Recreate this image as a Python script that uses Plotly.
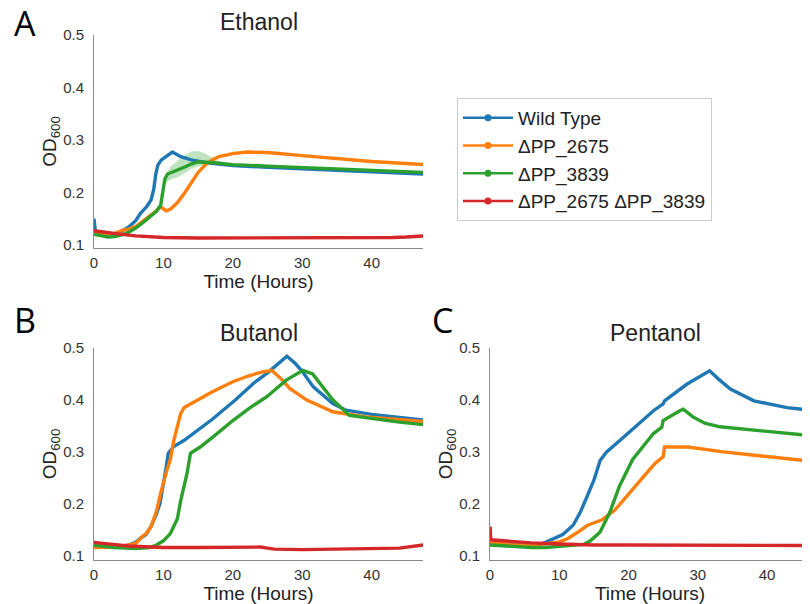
import plotly.graph_objects as go
from plotly.subplots import make_subplots

COLORS = ['#1f77b4', '#ff7f0e', '#2ca02c', '#d62728']
NAMES = ['Wild Type', '\u0394PP_2675', '\u0394PP_3839', '\u0394PP_2675 \u0394PP_3839']

# ---- Ethanol ----
ETH_BLUE_T = [0, 0.2, 1, 2, 3, 4, 5, 6, 6.7, 7.6, 8.2, 8.6, 8.9, 9.2, 9.7, 10.5, 11.3, 12.5, 14, 16, 20, 25, 30, 35, 40, 44, 47.5]
ETH_BLUE = [0.15, 0.125, 0.122, 0.12, 0.121, 0.126, 0.134, 0.146, 0.16, 0.173, 0.185, 0.205, 0.235, 0.252, 0.262, 0.27, 0.277, 0.268, 0.262, 0.257, 0.251, 0.248, 0.245, 0.242, 0.239, 0.237, 0.235]
ETH_ORANGE_T = [0, 1, 2, 3, 4, 5, 6, 7, 8, 9, 9.5, 10.4, 11, 12, 13, 14, 15, 16, 17, 18, 20, 22, 25, 30, 35, 40, 47.5]
ETH_ORANGE = [0.125, 0.122, 0.12, 0.122, 0.127, 0.13, 0.135, 0.145, 0.155, 0.165, 0.173, 0.165, 0.168, 0.18, 0.198, 0.218, 0.238, 0.252, 0.262, 0.268, 0.274, 0.277, 0.276, 0.27, 0.264, 0.259, 0.253]
ETH_GREEN_T = [0, 1, 2, 3, 4, 5, 6, 7, 8, 9, 9.6, 9.9, 10.2, 10.6, 12, 13, 14, 15, 17, 20, 25, 30, 35, 40, 47.5]
ETH_GREEN = [0.12, 0.117, 0.115, 0.116, 0.119, 0.124, 0.132, 0.142, 0.153, 0.164, 0.175, 0.2, 0.225, 0.235, 0.242, 0.248, 0.254, 0.258, 0.257, 0.253, 0.25, 0.247, 0.244, 0.241, 0.238]
ETH_RED_T = [0, 1, 2, 3, 4, 6, 8, 10, 15, 20, 25, 30, 35, 40, 43, 45, 47.5]
ETH_RED = [0.127, 0.125, 0.123, 0.122, 0.12, 0.117, 0.115, 0.114, 0.113, 0.113, 0.113, 0.113, 0.113, 0.113, 0.114, 0.115, 0.117]
ETH_BAND_T = [10.3, 11, 12, 13, 14, 15, 16, 17, 18, 19]
ETH_BAND_HI = [0.232, 0.249, 0.26, 0.27, 0.278, 0.279, 0.274, 0.266, 0.259, 0.255]
ETH_BAND_LO = [0.218, 0.224, 0.229, 0.236, 0.245, 0.25, 0.252, 0.253, 0.253, 0.252]

# ---- Butanol ----
BUT_BLUE_T = [0, 3, 5, 6, 6.7, 7.5, 8.2, 9, 9.5, 10, 10.4, 10.7, 11.5, 13, 15.3, 17, 20.4, 23, 25, 27, 27.8, 29, 30, 31.6, 34.4, 36.3, 40, 44, 47.5]
BUT_BLUE = [0.118, 0.115, 0.12, 0.125, 0.133, 0.14, 0.155, 0.18, 0.2, 0.235, 0.27, 0.297, 0.31, 0.322, 0.345, 0.362, 0.4, 0.432, 0.452, 0.474, 0.484, 0.47, 0.455, 0.425, 0.393, 0.38, 0.372, 0.366, 0.361]
BUT_ORANGE_T = [0, 4, 6, 6.7, 7.5, 8.2, 9, 9.6, 10.5, 11, 11.5, 12, 12.5, 13, 15, 17, 20, 22, 24, 25.6, 27, 28.2, 30.6, 34.4, 39.2, 44, 47.5]
BUT_ORANGE = [0.115, 0.117, 0.123, 0.133, 0.142, 0.155, 0.185, 0.22, 0.264, 0.285, 0.322, 0.348, 0.374, 0.385, 0.4, 0.415, 0.435, 0.445, 0.453, 0.457, 0.44, 0.422, 0.4, 0.377, 0.367, 0.362, 0.358]
BUT_GREEN_T = [0, 3, 6, 8, 9, 10, 11, 12, 12.5, 13, 13.4, 13.9, 15.3, 17.2, 20.1, 22.5, 24.9, 27.7, 30.1, 31.5, 33, 34.4, 36.8, 40, 44, 47.5]
BUT_GREEN = [0.12, 0.115, 0.113, 0.115, 0.12, 0.128, 0.142, 0.17, 0.206, 0.235, 0.258, 0.297, 0.309, 0.329, 0.361, 0.385, 0.406, 0.438, 0.457, 0.45, 0.425, 0.4, 0.37, 0.364, 0.357, 0.352]
BUT_RED_T = [0, 1, 2, 5, 10, 15, 20, 24, 25, 26, 30, 35, 40, 44, 47.5]
BUT_RED = [0.125, 0.124, 0.122, 0.118, 0.115, 0.115, 0.115, 0.116, 0.114, 0.112, 0.111, 0.112, 0.112, 0.114, 0.12]

# ---- Pentanol ----
PEN_BLUE_T = [0, 0.1, 2, 5, 7, 8, 9.1, 10.5, 12, 13, 13.9, 15, 15.9, 16.8, 18.7, 21, 23.6, 25, 25.2, 28.4, 31.7, 33, 34.7, 38.1, 42.9, 46.2]
PEN_BLUE = [0.155, 0.125, 0.122, 0.12, 0.12, 0.125, 0.132, 0.14, 0.158, 0.182, 0.21, 0.245, 0.283, 0.299, 0.321, 0.348, 0.379, 0.392, 0.398, 0.43, 0.456, 0.44, 0.421, 0.398, 0.385, 0.38]
PEN_ORANGE_T = [0, 3, 6, 8, 10, 11.2, 12.5, 14.1, 16.1, 18, 20.9, 23.8, 25.0, 25.2, 28.6, 33.4, 38.2, 42, 46.2]
PEN_ORANGE = [0.125, 0.12, 0.12, 0.122, 0.126, 0.132, 0.143, 0.158, 0.168, 0.187, 0.232, 0.277, 0.29, 0.309, 0.309, 0.3, 0.293, 0.288, 0.282]
PEN_GREEN_T = [0, 3, 6, 8, 10, 12, 13.5, 14.5, 15.9, 17.3, 18.7, 20.6, 22.1, 23.6, 24.8, 25.0, 27.4, 27.9, 29.3, 31, 33.2, 38.1, 42, 46.2]
PEN_GREEN = [0.12, 0.117, 0.115, 0.115, 0.117, 0.12, 0.121, 0.128, 0.145, 0.183, 0.234, 0.285, 0.31, 0.335, 0.347, 0.36, 0.379, 0.382, 0.367, 0.355, 0.348, 0.341, 0.336, 0.331]
PEN_RED_T = [0, 0.1, 3, 6, 10, 15, 20, 30, 40, 46.2]
PEN_RED = [0.155, 0.13, 0.127, 0.124, 0.122, 0.12, 0.12, 0.12, 0.12, 0.119]

panels = [
    (1, 1, [(ETH_BLUE_T, ETH_BLUE), (ETH_ORANGE_T, ETH_ORANGE), (ETH_GREEN_T, ETH_GREEN), (ETH_RED_T, ETH_RED)]),
    (2, 1, [(BUT_BLUE_T, BUT_BLUE), (BUT_ORANGE_T, BUT_ORANGE), (BUT_GREEN_T, BUT_GREEN), (BUT_RED_T, BUT_RED)]),
    (2, 2, [(PEN_BLUE_T, PEN_BLUE), (PEN_ORANGE_T, PEN_ORANGE), (PEN_GREEN_T, PEN_GREEN), (PEN_RED_T, PEN_RED)]),
]

fig = make_subplots(rows=2, cols=2, specs=[[{}, None], [{}, {}]])

# green error band (Ethanol)
fig.add_trace(go.Scatter(
    x=ETH_BAND_T + ETH_BAND_T[::-1], y=ETH_BAND_HI + ETH_BAND_LO[::-1],
    fill='toself', fillcolor='rgba(44,160,44,0.3)', line=dict(width=0),
    showlegend=False, hoverinfo='skip'), row=1, col=1)

for row, col, series in panels:
    for i, (t, v) in enumerate(series):
        fig.add_trace(go.Scatter(
            x=t, y=v, mode='lines', line=dict(color=COLORS[i], width=3.4),
            name=NAMES[i], showlegend=False), row=row, col=col)

# legend-only entries
for i in range(4):
    fig.add_trace(go.Scatter(
        x=[None], y=[None], mode='lines+markers', name=NAMES[i],
        line=dict(color=COLORS[i], width=2.5), marker=dict(size=7, color=COLORS[i])),
        row=1, col=1)

# page body has an 8px margin, so the figure sits at (8, 8) in the window
OFF = 8
W, H = 810 - OFF, 604 - OFF
def fx(px): return (px - OFF) / W
def fy(py): return 1 - (py - OFF) / H

FONT = 'Liberation Sans'
axis_style = dict(showgrid=False, zeroline=False, showline=True, linecolor='#8c8c8c',
                  linewidth=1, ticks='', ticklen=0, automargin=False,
                  tickfont=dict(size=15, color='#333', family=FONT))

fig.update_xaxes(**axis_style, tickvals=[0, 10, 20, 30, 40], ticklabelstandoff=1,
                 title=dict(text='Time (Hours)', font=dict(size=19, color='#222', family=FONT), standoff=2))
fig.update_yaxes(**axis_style, tickvals=[0.1, 0.2, 0.3, 0.4, 0.5], ticklabelstandoff=6,
                 title=dict(text='OD<sub>600</sub>', font=dict(size=19, color='#222', family=FONT), standoff=0))

fig.update_xaxes(domain=[fx(94), fx(423)], range=[0, 47.4], row=1, col=1)
fig.update_yaxes(domain=[fy(248), fy(35)], range=[0.094, 0.5], row=1, col=1)
fig.update_xaxes(domain=[fx(94), fx(423)], range=[0, 47.4], row=2, col=1)
fig.update_yaxes(domain=[fy(560), fy(348)], range=[0.091, 0.5], row=2, col=1)
fig.update_xaxes(domain=[fx(490), 1.0], range=[0, 46.2], row=2, col=2)
fig.update_yaxes(domain=[fy(560), fy(348)], range=[0.091, 0.5], row=2, col=2)

titles = [('Ethanol', (94 + 423) / 2, 22), ('Butanol', (94 + 423) / 2, 333), ('Pentanol', 655, 333)]
for txt, x, y in titles:
    fig.add_annotation(text=txt, x=fx(x), y=fy(y), xref='paper', yref='paper',
                       xanchor='center', yanchor='middle', showarrow=False,
                       font=dict(size=23, color='#222', family=FONT))

for txt, x, y in [('A', 25, 23), ('B', 25, 320), ('C', 442, 320)]:
    fig.add_annotation(text=txt, x=fx(x), y=fy(y), xref='paper', yref='paper',
                       xanchor='center', yanchor='middle', showarrow=False,
                       font=dict(size=34, color='#000', family='Open Sans'))

fig.update_layout(
    width=W, height=H, margin=dict(l=0, r=0, t=0, b=0),
    plot_bgcolor='white', paper_bgcolor='white',
    legend=dict(x=fx(457), y=fy(98), xanchor='left', yanchor='top',
                bordercolor='#cccccc', borderwidth=1, itemwidth=50,
                font=dict(size=19, color='#222', family=FONT)),
)

fig.write_html("out.html")
